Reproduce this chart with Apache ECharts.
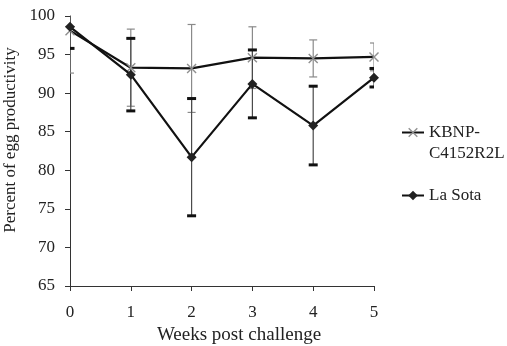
<!DOCTYPE html>
<html>
<head>
<meta charset="utf-8">
<script src="https://cdn.jsdelivr.net/npm/echarts@6/dist/echarts.min.js"></script>
<style>
  html, body { margin: 0; padding: 0; background: #fff; }
  #chart { width: 507px; height: 346px; }
</style>
</head>
<body>
<div id="chart"></div>
<script>
// weeks post challenge
var weeks = [0, 1, 2, 3, 4, 5];
// KBNP-C4152R2L: mean and error
var kbnpMean = [98.1, 93.3, 93.2, 94.6, 94.5, 94.7];
var kbnpErr = [5.5, 5.0, 5.7, 4.0, 2.4, 1.8];
// La Sota: mean and error
var laSotaMean = [98.6, 92.4, 81.7, 91.2, 85.8, 92.0];
var laSotaErr = [2.8, 4.7, 7.6, 4.4, 5.1, 1.2];
var yTicks = [65, 70, 75, 80, 85, 90, 95, 100];

var kbnpName = "KBNP-\nC4152R2L";
var laSotaName = "La Sota";
var font = "'Liberation Serif', 'Times New Roman', serif";

function pairs(xs, ys) {
  return xs.map(function (x, i) { return [x, ys[i]]; });
}
function errData(xs, m, e) {
  return xs.map(function (x, i) { return [x, m[i] - e[i], m[i] + e[i]]; });
}

// error bar: vertical line with caps
function errRender(lineColor, capColor, capW, capH) {
  return function (params, api) {
    var lo = api.coord([api.value(0), api.value(1)]);
    var hi = api.coord([api.value(0), api.value(2)]);
    return {
      type: "group",
      children: [
        { type: "line", shape: { x1: lo[0], y1: lo[1], x2: hi[0], y2: hi[1] },
          style: { stroke: lineColor, lineWidth: 1.2 } },
        { type: "line", shape: { x1: lo[0] - capW / 2, y1: lo[1], x2: lo[0] + capW / 2, y2: lo[1] },
          style: { stroke: capColor, lineWidth: capH } },
        { type: "line", shape: { x1: hi[0] - capW / 2, y1: hi[1], x2: hi[0] + capW / 2, y2: hi[1] },
          style: { stroke: capColor, lineWidth: capH } }
      ]
    };
  };
}

var crossPath = "path://M0,1L1,0L10,9L9,10Z M9,0L10,1L1,10L0,9Z";

var chart = echarts.init(document.getElementById("chart"), null, { renderer: "canvas" });
var option = {
  animation: false,
  textStyle: { fontFamily: font },
  grid: { left: 70, right: 133, top: 16, bottom: 60, outerBoundsMode: "none", containLabel: false },
  legend: [
    {
      data: [kbnpName],
      left: 401, top: 101,
      padding: 0,
      itemWidth: 22, itemHeight: 12,
      // blank first line keeps the icon level with "KBNP-"
      formatter: function (name) { return " \n" + name; },
      textStyle: { fontFamily: font, fontSize: 17, color: "#222", lineHeight: 21 }
    },
    {
      data: [laSotaName],
      left: 401, top: 185,
      padding: 0,
      itemWidth: 22, itemHeight: 12,
      textStyle: { fontFamily: font, fontSize: 17, color: "#222", lineHeight: 21 }
    }
  ],
  xAxis: {
    type: "value",
    min: 0, max: 5, interval: 1,
    name: "Weeks post challenge",
    nameLocation: "middle",
    nameGap: 40,
    nameTextStyle: { fontFamily: font, fontSize: 19, color: "#222", padding: [0, 0, 0, 34] },
    axisLine: { lineStyle: { color: "#333", width: 1 } },
    axisTick: { length: 5, lineStyle: { color: "#333" } },
    axisLabel: { margin: 18, fontFamily: font, fontSize: 17, color: "#222" },
    splitLine: { show: false }
  },
  yAxis: {
    type: "value",
    min: 65, max: 100, interval: 5,
    name: "Percent of egg productivity",
    nameLocation: "middle",
    nameGap: 44,
    nameTextStyle: { fontFamily: font, fontSize: 17, color: "#222", padding: [0, 0, 0, 22] },
    axisLine: { show: true, lineStyle: { color: "#333", width: 1 } },
    axisTick: { show: true, length: 5, lineStyle: { color: "#333" } },
    axisLabel: {
      margin: 15, fontFamily: font, fontSize: 17, color: "#222",
      formatter: function (v) { return yTicks.indexOf(v) >= 0 ? String(v) : ""; }
    },
    splitLine: { show: false }
  },
  series: [
    {
      type: "custom",
      name: "kbnpErr",
      clip: true,
      z: 1,
      renderItem: errRender("#8a8a8a", "#8a8a8a", 8, 1.2),
      data: errData(weeks, kbnpMean, kbnpErr)
    },
    {
      type: "custom",
      name: "laSotaErr",
      clip: true,
      z: 2,
      renderItem: errRender("#4a4a4a", "#111", 9, 3),
      data: errData(weeks, laSotaMean, laSotaErr)
    },
    {
      name: kbnpName,
      type: "line",
      z: 3,
      symbol: crossPath,
      symbolSize: 10,
      lineStyle: { color: "#111", width: 2.2 },
      itemStyle: { color: "#909090" },
      data: pairs(weeks, kbnpMean)
    },
    {
      name: laSotaName,
      type: "line",
      z: 4,
      symbol: "diamond",
      symbolSize: 10,
      lineStyle: { color: "#111", width: 2.2 },
      itemStyle: { color: "#222" },
      data: pairs(weeks, laSotaMean)
    }
  ]
};
chart.setOption(option);
</script>
</body>
</html>
